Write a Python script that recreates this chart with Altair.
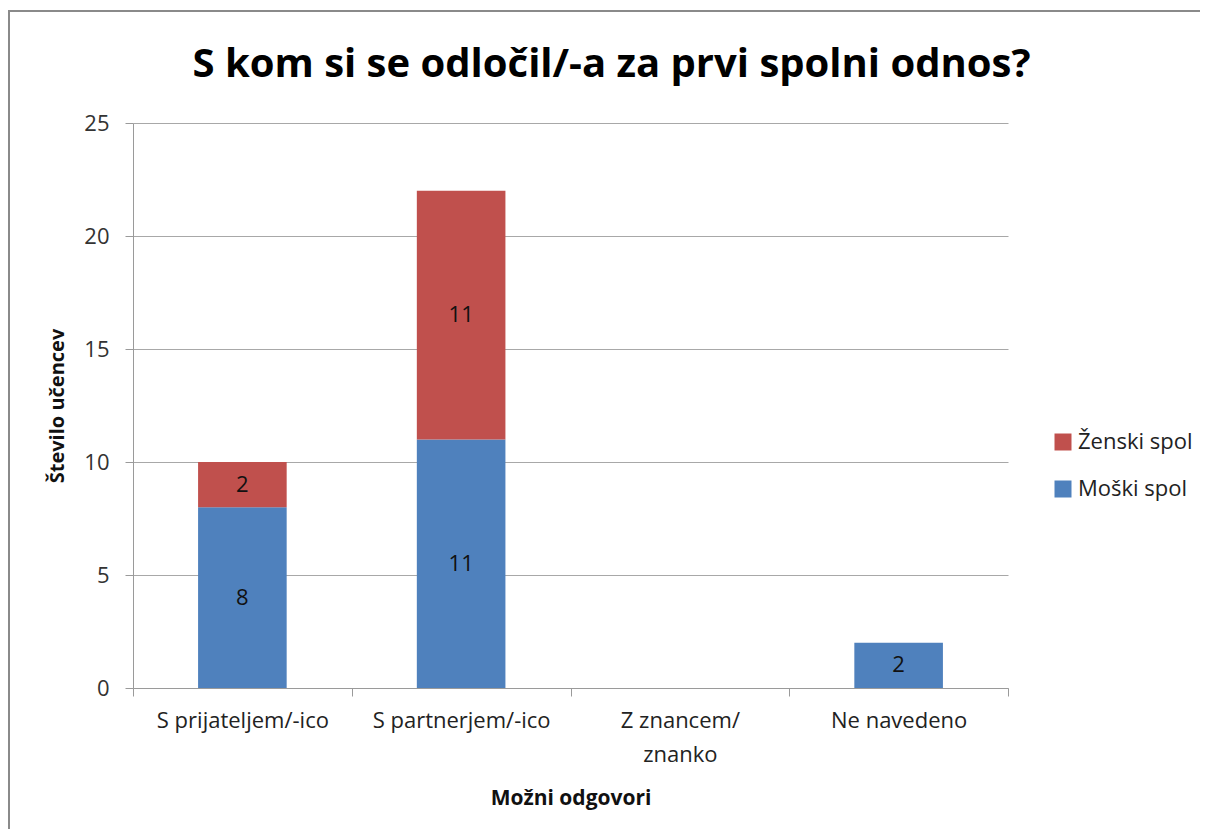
import altair as alt
import pandas as pd

categories = ["S prijateljem/-ico", "S partnerjem/-ico", "Z znancem/ znanko", "Ne navedeno"]
series = ["Moški spol", "Ženski spol"]
moski = [8, 11, 0, 2]
zenski = [2, 11, 0, 0]
colors = {"Ženski spol": "#C0504D", "Moški spol": "#4F81BD"}

rows = []
for c, m, z in zip(categories, moski, zenski):
    rows.append({"cat": c, "spol": "Moški spol", "ord": 0, "value": m})
    rows.append({"cat": c, "spol": "Ženski spol", "ord": 1, "value": z})
df = pd.DataFrame(rows)

FONT = "Open Sans"
yscale = alt.Scale(domain=[0, 25], nice=False, zero=True)

x = alt.X("cat:N", sort=categories, title="Možni odgovori",
          scale=alt.Scale(paddingInner=0, paddingOuter=0),
          axis=alt.Axis(labelAngle=0, tickBand="extent", grid=False,
                        labelExpr="datum.label == 'Z znancem/ znanko' ? ['Z znancem/', 'znanko'] : datum.label",
                        labelFontSize=22, labelColor="#222", labelPadding=14,
                        labelLineHeight=34,
                        titleFontSize=21, titleFontWeight="bold", titleColor="#111",
                        titlePadding=22, tickSize=8, tickColor="#9a9a9a",
                        domainColor="#9a9a9a", labelFont=FONT, titleFont=FONT))

base = alt.Chart(df).transform_stack(
    stack="value", groupby=["cat"], as_=["y0", "y1"],
    sort=[alt.SortField("ord", order="ascending")]
).transform_calculate(mid="(datum.y0 + datum.y1) / 2")

bars = base.mark_bar(width=alt.RelativeBandSize(0.405)).encode(
    x=x,
    y=alt.Y("y0:Q", title="Število učencev", scale=yscale,
            axis=alt.Axis(values=[0, 5, 10, 15, 20, 25], grid=True,
                          gridColor="#a8a8a8", tickColor="#9a9a9a",
                          domainColor="#9a9a9a", tickSize=8,
                          labelFontSize=22, labelColor="#333", labelPadding=16,
                          titleFontSize=20, titleFontWeight="bold", titleColor="#111",
                          titlePadding=16, labelFont=FONT, titleFont=FONT)),
    y2="y1:Q",
    color=alt.Color("spol:N",
                    scale=alt.Scale(domain=["Ženski spol", "Moški spol"],
                                    range=[colors["Ženski spol"], colors["Moški spol"]]),
                    legend=alt.Legend(title=None, orient="none", legendX=919, legendY=308,
                                      symbolType="square", symbolSize=289,
                                      symbolStrokeWidth=0, rowPadding=25,
                                      labelFontSize=22, labelColor="#222", labelFont=FONT,
                                      labelOffset=4)),
)

labels = base.transform_filter("datum.value > 0").mark_text(
    fontSize=22, color="#111", font=FONT
).encode(
    x=alt.X("cat:N", sort=categories),
    y=alt.Y("mid:Q", scale=yscale),
    text="value:Q",
)

frame_df = pd.DataFrame({"k": [0]})
frame_left = alt.Chart(frame_df).mark_rule(color="#8a8a8a", strokeWidth=2).encode(
    x=alt.value(-124), y=alt.value(-113), y2=alt.value(706))
frame_top = alt.Chart(frame_df).mark_rule(color="#8a8a8a", strokeWidth=2).encode(
    y=alt.value(-112), x=alt.value(-125), x2=alt.value(1067))

chart = alt.layer(bars, labels, frame_left, frame_top).properties(
    width=875, height=565,
    padding={"left": 125, "top": 115, "right": 192, "bottom": 141},
    autosize=alt.AutoSizeParams(type="none"),
    title=alt.TitleParams("S kom si se odločil/-a za prvi spolni odnos?",
                          fontSize=40, font=FONT, fontWeight="bold", color="#000",
                          anchor="middle", frame="group", dx=41, offset=0, dy=76),
).configure_view(stroke=None)

chart.save("out.html", embed_options={"renderer": "svg", "actions": False})
